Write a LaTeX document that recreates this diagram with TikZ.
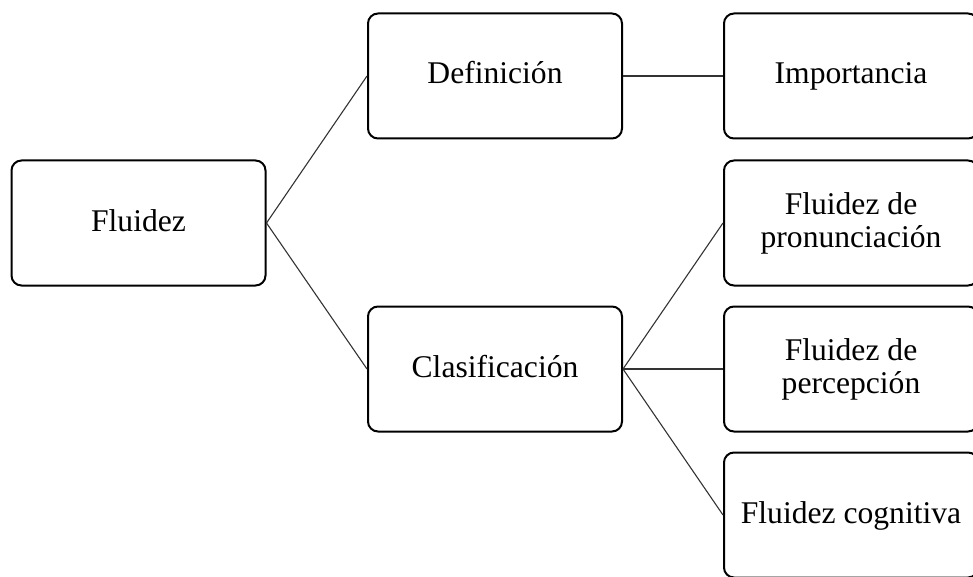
\documentclass[tikz,border=0pt]{standalone}
\usepackage{fontspec}
\setmainfont{Liberation Serif}
\tikzset{caja/.style={draw,rounded corners=5pt,line width=1pt,minimum width=127pt,minimum height=62.5pt,align=center,inner sep=2pt,font=\fontsize{15.8}{16.5}\selectfont},
una/.style={text height=11pt,text depth=3pt},
enlace/.style={line width=0.55pt,black!80}}

\begin{document}
\begin{tikzpicture}[x=0.5pt,y=-0.5pt]
        \useasboundingbox (0,0) rectangle (973,577);
        \node[caja,una] (fluidez) at (138.5,223) {Fluidez};
        \node[caja,una] (defin) at (495,76) {Definición};
        \node[caja,una] (clasif) at (495,369) {Clasificación};
        \node[caja,una] (import) at (851,76) {Importancia};
        \node[caja] (pronun) at (851,223) {Fluidez de\\pronunciación};
        \node[caja] (percep) at (851,369) {Fluidez de\\percepción};
        \node[caja,una] (cognit) at (851,515) {Fluidez cognitiva};
        \draw[enlace] (fluidez.east)--(defin.west);
        \draw[enlace] (fluidez.east)--(clasif.west);
        \draw[enlace] (defin.east)--(import.west);
        \draw[enlace] (clasif.east)--(pronun.west);
        \draw[enlace] (clasif.east)--(percep.west);
        \draw[enlace] (clasif.east)--(cognit.west);
    \end{tikzpicture}
\end{document}
